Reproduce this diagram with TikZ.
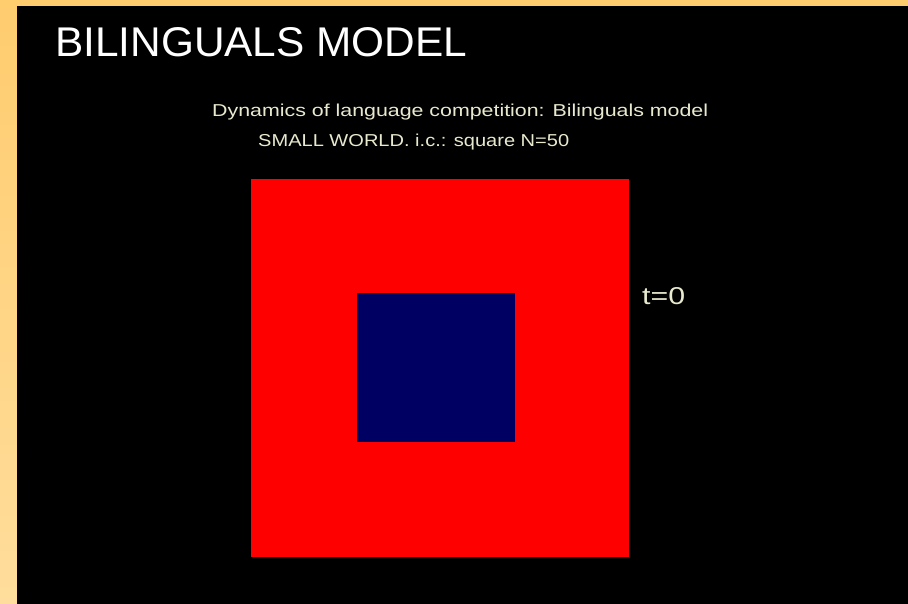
\documentclass[tikz,border=0pt]{standalone}
\usepackage{fontspec}
\setmainfont{Liberation Sans}
\usepackage{graphicx}
\definecolor{orangetop}{HTML}{FFCC6E}
\definecolor{orangebot}{HTML}{FFDD9C}
\definecolor{plotred}{HTML}{FF0000}
\definecolor{plotblue}{HTML}{000063}
\definecolor{plottext}{HTML}{E9E9CF}
\begin{document}
\begin{tikzpicture}[x=1pt,y=-1pt,
  lbl/.style={inner sep=0pt,anchor=base west}]
\useasboundingbox (0,0) rectangle (908,604);
\shade[top color=orangetop,bottom color=orangebot] (0,0) rectangle (908,604);
\fill[orangetop] (17,0) rectangle (908,6);
\fill[black] (17,6) rectangle (908,604);
\node[lbl,text=white] (title) at (55,57) {\resizebox{412pt}{29pt}{\fontsize{40}{48}\selectfont BILINGUALS MODEL}};
\node[lbl,text=plottext] (sub1) at (212,117) {\resizebox{496pt}{12.5pt}{\fontsize{16}{19}\selectfont Dynamics of language competition: Bilinguals model}};
\node[lbl,text=plottext] (sub2) at (258,147) {\resizebox{311pt}{12.5pt}{\fontsize{16}{19}\selectfont SMALL WORLD. i.c.: square N=50}};
\fill[plotred] (251,179) rectangle (629,557);
\fill[plotblue] (357,293) rectangle (515,442);
\node[lbl,text=plottext] (time) at (642,305) {\resizebox{43pt}{17pt}{\fontsize{22}{26}\selectfont t=0}};
\end{tikzpicture}
\end{document}
